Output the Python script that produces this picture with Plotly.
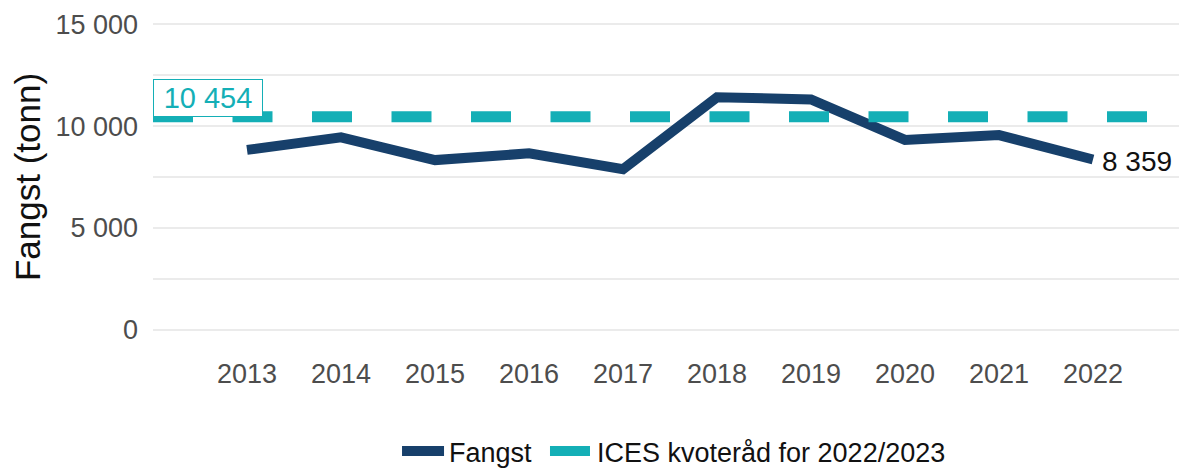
import plotly.graph_objects as go

years = [2013, 2014, 2015, 2016, 2017, 2018, 2019, 2020, 2021, 2022]
fangst = [8830, 9450, 8330, 8660, 7880, 11420, 11310, 9320, 9560, 8359]
ices_advice = 10454
ices_years = [2012, 2023]
y_ticks = [0, 5000, 10000, 15000]
y_tick_labels = ["0", "5 000", "10 000", "15 000"]

NAVY = "#17406B"
TEAL = "#14AFB6"
FONT = "Liberation Sans, Arial, sans-serif"

fig = go.Figure()
fig.add_trace(go.Scatter(
    x=years, y=fangst, mode="lines", name="Fangst",
    line=dict(color=NAVY, width=10), legend="legend",
))
fig.add_trace(go.Scatter(
    x=ices_years, y=[ices_advice] * len(ices_years), mode="lines",
    name="ICES kvoteråd for 2022/2023",
    line=dict(color=TEAL, width=11, dash="40px,39.5px"), legend="legend2",
))

fig.add_annotation(
    x=ices_years[0], y=ices_advice, xref="x", yref="y",
    text="10 454", showarrow=False, xanchor="left", yanchor="bottom",
    width=108, height=36, align="center", valign="middle",
    font=dict(family=FONT, size=29, color=TEAL),
    bgcolor="white", bordercolor=TEAL, borderwidth=1, borderpad=0,
)
fig.add_annotation(
    x=years[-1], y=fangst[-1], xref="x", yref="y",
    text="8 359", showarrow=False, xanchor="left", yanchor="middle",
    xshift=7, yshift=-2,
    font=dict(family=FONT, size=28, color="#111111"),
)

legend_style = dict(
    orientation="h", xanchor="left",
    yref="container", y=0.038, yanchor="middle",
    font=dict(family=FONT, size=27, color="#111111"),
    itemwidth=42, bgcolor="rgba(0,0,0,0)",
)

fig.update_layout(
    width=1179, height=461,
    margin=dict(l=145, r=0, t=2, b=125, autoexpand=False),
    paper_bgcolor="white", plot_bgcolor="white",
    font=dict(family=FONT, size=24, color="#4d4d4d"),
    showlegend=True,
    legend=dict(x=0.236, **legend_style),
    legend2=dict(x=0.3791, **legend_style),
)
fig.update_xaxes(
    range=[2012, 2023], tickmode="array", tickvals=years,
    ticktext=[str(y) for y in years],
    showgrid=False, zeroline=False, showline=False, automargin=False,
    tickfont=dict(family=FONT, size=27, color="#4d4d4d"),
    ticklabelstandoff=11,
)
fig.update_yaxes(
    range=[-700, 15700], tickmode="array", tickvals=y_ticks, ticktext=y_tick_labels,
    showgrid=True, gridcolor="#EBEBEB", gridwidth=2,
    minor=dict(tickmode="array", tickvals=[2500, 7500, 12500], showgrid=True,
               gridcolor="#EBEBEB", gridwidth=2),
    zeroline=False, showline=False, automargin=False,
    tickfont=dict(family=FONT, size=27, color="#4d4d4d"),
    ticklabelstandoff=14,
    title=dict(text="Fangst (tonn)", font=dict(family=FONT, size=35, color="#111111"),
               standoff=8),
)

fig.write_html("out.html")
